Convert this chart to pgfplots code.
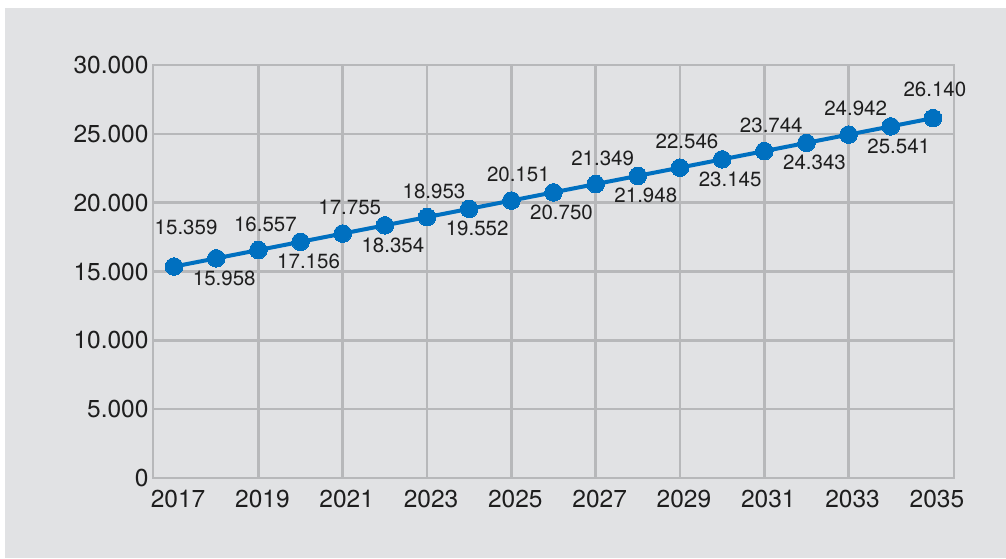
\documentclass[border=0pt]{standalone}
\usepackage{fontspec}
\setmainfont{TeX Gyre Heros}
\usepackage{pgfplots}
\pgfplotsset{compat=1.18}
\definecolor{bg}{RGB}{225,226,228}
\definecolor{gridc}{RGB}{183,184,186}
\definecolor{blu}{RGB}{0,112,192}
\definecolor{txt}{RGB}{30,30,30}
\begin{document}
\begin{tikzpicture}
\fill[white] (0pt,0pt) rectangle (1006pt,558pt);
\fill[bg] (5pt,0pt) rectangle (1006pt,550pt);
\begin{axis}[
  at={(153pt,80pt)}, anchor=south west,
  scale only axis, width=801pt, height=413pt,
  xmin=2016.5, xmax=2035.5, ymin=0, ymax=30000,
  xtick={2017,2019,...,2035},
  ytick={0,5000,...,30000},
  scaled ticks=false,
  extra x ticks={2019,2021,...,2033},
  extra x tick labels={},
  extra x tick style={grid=major},
  ymajorgrids,
  major grid style={gridc, line width=2.5pt},
  axis line style={gridc, line width=2.5pt},
  tick style={draw=none},
  clip=false,
  /pgf/number format/.cd, fixed, precision=0, 1000 sep={.}, assume math mode=true,
  /pgfplots/.cd,
  ticklabel style={font=\fontsize{24.5}{28}\selectfont, text=txt},
  xticklabel style={/pgf/number format/1000 sep={}, yshift=-9pt, xshift=4pt},
  yticklabel style={xshift=-1pt},
]
\addplot[blu, line width=4pt, mark=*, mark size=8.8pt, mark options={fill=blu, draw=blu, line width=0pt}]
coordinates {
(2017,15359) (2018,15958) (2019,16557) (2020,17156) (2021,17755)
(2022,18354) (2023,18953) (2024,19552) (2025,20151) (2026,20750)
(2027,21349) (2028,21948) (2029,22546) (2030,23145) (2031,23744)
(2032,24343) (2033,24942) (2034,25541) (2035,26140)
};
% labels above (odd years)
\addplot[draw=none, mark=none, nodes near coords,
  every node near coord/.style={anchor=center, inner sep=0pt, text=txt,
    font=\fontsize{20.5}{24}\selectfont, yshift=26pt, xshift=7pt}]
coordinates {
(2019,16557) (2021,17755) (2023,18953) (2025,20151)
(2027,21349) (2029,22546) (2031,23744) (2033,24942)
};
\addplot[draw=none, mark=none, nodes near coords,
  every node near coord/.style={anchor=center, inner sep=0pt, text=txt,
    font=\fontsize{20.5}{24}\selectfont, yshift=39pt, xshift=12pt}]
coordinates {(2017,15359)};
\addplot[draw=none, mark=none, nodes near coords,
  every node near coord/.style={anchor=center, inner sep=0pt, text=txt,
    font=\fontsize{20.5}{24}\selectfont, yshift=29pt, xshift=2pt}]
coordinates {(2035,26140)};
% labels below (even years)
\addplot[draw=none, mark=none, nodes near coords,
  every node near coord/.style={anchor=center, inner sep=0pt, text=txt,
    font=\fontsize{20.5}{24}\selectfont, yshift=-20pt, xshift=8pt}]
coordinates {
(2018,15958) (2020,17156) (2022,18354) (2024,19552) (2026,20750)
(2028,21948) (2030,23145) (2032,24343) (2034,25541)
};
\end{axis}
\end{tikzpicture}
\end{document}
